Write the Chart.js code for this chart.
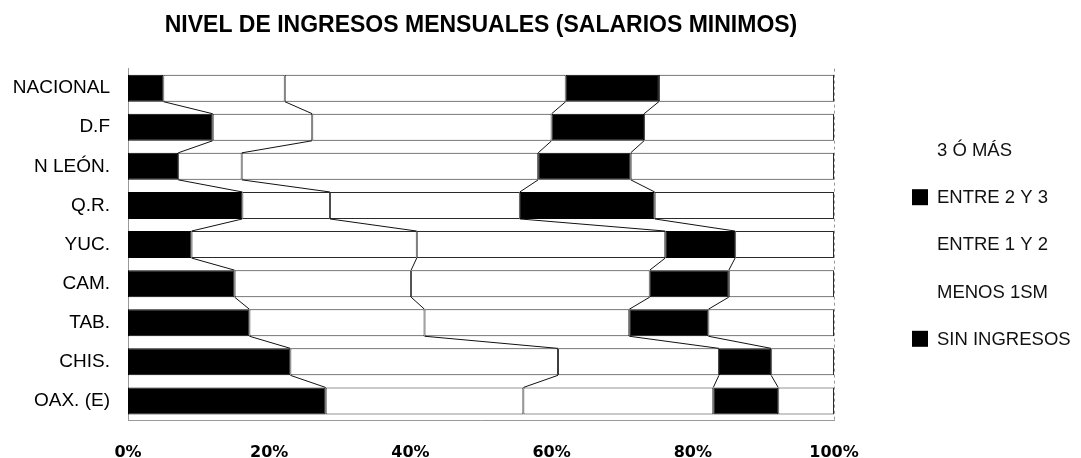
<!DOCTYPE html>
<html>
<head>
<meta charset="utf-8">
<script src="https://cdn.jsdelivr.net/npm/chart.js@4/dist/chart.umd.min.js"></script>
<style>
  html,body{margin:0;padding:0;background:#fff;}
  #wrap{width:1081px;height:458px;position:relative;}
</style>
</head>
<body>
<div id="wrap"><canvas id="ingresosChart"></canvas></div>
<script>
// Nivel de ingresos mensuales (% por entidad)
const categories  = ['NACIONAL','D.F','N LEÓN.','Q.R.','YUC.','CAM.','TAB.','CHIS.','OAX. (E)'];
const sinIngresos = [5.0, 12.0, 7.1, 16.2, 9.0, 15.1, 17.2, 23.0, 28.0];
const menos1SM    = [17.2, 14.1, 9.0, 12.4, 31.9, 25.0, 24.8, 37.9, 28.0];
const entre1y2    = [39.8, 33.9, 42.0, 26.9, 35.2, 33.8, 29.0, 22.8, 26.9];
const entre2y3    = [13.2, 13.1, 13.1, 19.1, 9.9, 11.2, 11.2, 7.4, 9.2];
const tresOMas    = [24.8, 26.9, 28.8, 25.4, 14.0, 14.9, 17.8, 8.9, 7.9];
const seriesNames = ['SIN INGRESOS','MENOS 1SM','ENTRE 1 Y 2','ENTRE 2 Y 3','3 Ó MÁS'];
const xTicks      = [0, 20, 40, 60, 80, 100];

const BLACK='#000', WHITE='#fff', EDGE='#2a2a2a';

function ds(label,data,fill){
  return {label,data,backgroundColor:fill,borderColor:fill===BLACK?BLACK:EDGE,
    borderWidth:1,borderSkipped:false,barPercentage:0.69,categoryPercentage:1};
}

// líneas de serie (estilo Excel) entre barras consecutivas
const seriesLines={
  id:'seriesLines',
  afterDatasetsDraw(chart){
    const ctx=chart.ctx;
    ctx.save();
    ctx.strokeStyle='#111';ctx.lineWidth=1;
    for(let d=0;d<chart.data.datasets.length-1;d++){
      const els=chart.getDatasetMeta(d).data;
      for(let i=0;i<els.length-1;i++){
        const a=els[i].getProps(['x','y','height'],true);
        const b=els[i+1].getProps(['x','y','height'],true);
        ctx.beginPath();
        ctx.moveTo(a.x,a.y+a.height/2);
        ctx.lineTo(b.x,b.y-b.height/2);
        ctx.stroke();
      }
    }
    // borde derecho punteado del área
    const ca=chart.chartArea;
    ctx.strokeStyle='#999';ctx.setLineDash([3,3]);
    ctx.beginPath();ctx.moveTo(ca.right+0.5,ca.top);ctx.lineTo(ca.right+0.5,ca.bottom);ctx.stroke();
    ctx.restore();
  }
};

// leyenda a la derecha, orden inverso
const sideLegend={
  id:'sideLegend',
  afterDraw(chart){
    const ctx=chart.ctx;
    const sets=chart.data.datasets.slice().reverse();
    ctx.save();
    ctx.font='18.5px "Liberation Sans", Arial, sans-serif';
    ctx.textBaseline='middle';ctx.textAlign='left';
    sets.forEach((s,i)=>{
      const y=150+i*47.2;
      if(s.backgroundColor===BLACK){
        ctx.fillStyle=BLACK;ctx.fillRect(912,y-8,16,16);
      }
      ctx.fillStyle='#111';
      ctx.fillText(s.label,937,y+1);
    });
    ctx.restore();
  }
};

new Chart(document.getElementById('ingresosChart'),{
  type:'bar',
  data:{
    labels:categories,
    datasets:[
      ds(seriesNames[0],sinIngresos,BLACK),
      ds(seriesNames[1],menos1SM,WHITE),
      ds(seriesNames[2],entre1y2,WHITE),
      ds(seriesNames[3],entre2y3,BLACK),
      ds(seriesNames[4],tresOMas,WHITE),
    ]
  },
  options:{
    indexAxis:'y',responsive:true,maintainAspectRatio:false,animation:false,
    layout:{padding:{left:0,right:247,top:0,bottom:0}},
    plugins:{
      legend:{display:false},tooltip:{enabled:false},
      title:{display:true,fullSize:false,text:'NIVEL DE INGRESOS MENSUALES (SALARIOS MINIMOS)',
        color:'#000',font:{family:'"Liberation Sans", Arial, sans-serif',size:23,weight:'bold'},
        padding:{top:12,bottom:29}}
    },
    scales:{
      x:{stacked:true,min:0,max:100,
        afterBuildTicks:s=>{s.ticks=xTicks.map(v=>({value:v}));},
        afterFit:s=>{s.height=37.5;},
        grid:{display:false,drawTicks:false},
        border:{display:true,color:'#999',dash:[3,3]},
        ticks:{padding:23,color:'#000',callback:v=>v+'%',maxRotation:0,
          font:{family:'"DejaVu Sans", sans-serif',size:16,weight:'bold'}}},
      y:{stacked:true,
        afterFit:s=>{s.width=128;},
        grid:{display:false,drawTicks:false},
        border:{display:true,color:'#999',dash:[3,3]},
        ticks:{padding:18,color:'#000',font:{family:'"Liberation Sans", Arial, sans-serif',size:19}}}
    }
  },
  plugins:[seriesLines,sideLegend]
});
</script>
</body>
</html>
